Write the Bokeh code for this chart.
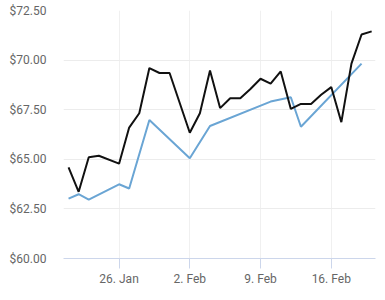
from datetime import datetime
from bokeh.plotting import figure
from bokeh.models import FixedTicker, NumeralTickFormatter, Range1d
from bokeh.embed import file_html
from bokeh.resources import INLINE

# ---- data ----
black_dates = ["2015-01-21", "2015-01-22", "2015-01-23", "2015-01-24", "2015-01-26",
               "2015-01-27", "2015-01-28", "2015-01-29", "2015-01-30", "2015-01-31",
               "2015-02-02", "2015-02-03", "2015-02-04", "2015-02-05", "2015-02-06",
               "2015-02-07", "2015-02-08", "2015-02-09", "2015-02-10", "2015-02-11",
               "2015-02-12", "2015-02-13", "2015-02-14", "2015-02-15", "2015-02-16",
               "2015-02-17", "2015-02-18", "2015-02-19", "2015-02-20"]
black_values = [64.59, 63.36, 65.10, 65.18, 64.78,
                66.60, 67.32, 69.60, 69.35, 69.35,
                66.34, 67.32, 69.48, 67.58, 68.08,
                68.08, 68.54, 69.06, 68.81, 69.43,
                67.54, 67.79, 67.79, 68.25, 68.64,
                66.87, 69.82, 71.29, 71.45]

blue_dates = ["2015-01-21", "2015-01-22", "2015-01-23", "2015-01-26", "2015-01-27",
              "2015-01-29", "2015-02-02", "2015-02-04", "2015-02-10", "2015-02-12",
              "2015-02-13", "2015-02-19"]
blue_values = [63.02, 63.24, 62.97, 63.74, 63.53,
               66.98, 65.05, 66.68, 67.91, 68.13,
               66.64, 69.82]

y_ticks = [60.0, 62.5, 65.0, 67.5, 70.0, 72.5]
x_tick_dates = ["2015-01-26", "2015-02-02", "2015-02-09", "2015-02-16"]
x_tick_labels = ["26. Jan", "2. Feb", "9. Feb", "16. Feb"]


def to_dt(s):
    return datetime.strptime(s, "%Y-%m-%d")


def to_ms(s):
    return (to_dt(s) - datetime(1970, 1, 1)).total_seconds() * 1000.0


bx = [to_dt(d) for d in black_dates]
blx = [to_dt(d) for d in blue_dates]

day = 86400000.0
x_start = to_ms("2015-01-21") - 0.5 * day
x_end = to_ms("2015-02-20") + 0.38 * day

p = figure(width=385, height=300, x_axis_type="datetime",
           output_backend="svg", toolbar_location=None,
           x_range=Range1d(x_start, x_end), y_range=Range1d(60, 72.5),
           min_border_left=63, min_border_right=10, min_border_top=10,
           min_border_bottom=42)
p.outline_line_color = None
p.background_fill_color = "white"
p.border_fill_color = "white"

p.line(blx, blue_values, line_color="#6aa5d4", line_width=2)
p.line(bx, black_values, line_color="#111111", line_width=2)

# y axis
ya = p.yaxis[0]
ya.ticker = FixedTicker(ticks=y_ticks)
ya.formatter = NumeralTickFormatter(format="$0.00")
ya.axis_line_color = None
ya.major_tick_line_color = None
ya.minor_tick_line_color = None
ya.major_label_standoff = 11
ya.major_label_text_font = "Roboto"
ya.major_label_text_font_size = "12px"
ya.major_label_text_color = "#666666"

# x axis
xa = p.xaxis[0]
tick_ms = [to_ms(d) for d in x_tick_dates]
xa.ticker = FixedTicker(ticks=tick_ms)
xa.major_label_overrides = {t: lab for t, lab in zip(tick_ms, x_tick_labels)}
xa.axis_line_color = "#ccd6eb"
xa.major_tick_line_color = "#ccd6eb"
xa.major_tick_in = 0
xa.major_tick_out = 10
xa.minor_tick_line_color = None
xa.major_label_standoff = 3
xa.major_label_text_font = "Roboto"
xa.major_label_text_font_size = "12px"
xa.major_label_text_color = "#666666"

p.xgrid.grid_line_color = "#f0f0f0"
p.ygrid.grid_line_color = "#ececec"

open("out.html", "w").write(file_html(p, INLINE))
